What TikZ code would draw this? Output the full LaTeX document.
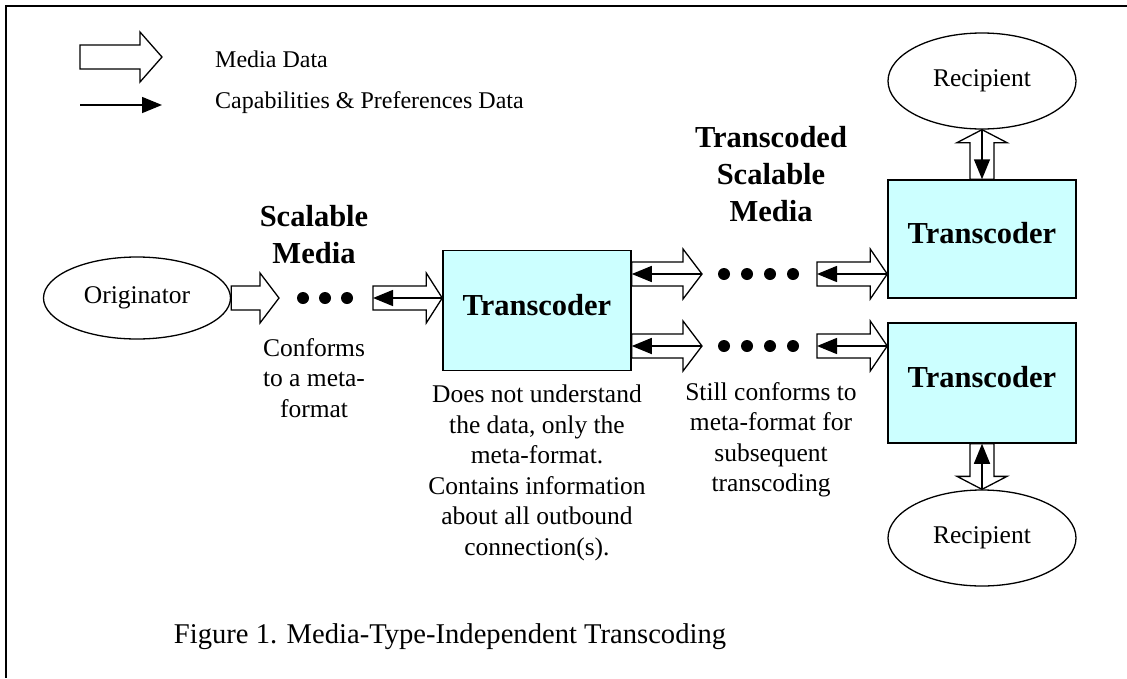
\documentclass[tikz,border=0pt]{standalone}
\usepackage{fontspec}
\setmainfont{Liberation Serif}
\usetikzlibrary{calc,arrows.meta,shapes.geometric}

\definecolor{tccyan}{HTML}{CCFFFF}

% hollow media arrow from #2 to #3, #1 = head length
\newcommand{\mediaarrow}[3][18pt]{%
  \coordinate (mbase) at ($(#3)!#1!(#2)$);
  \draw[media] ($(#2)!12pt!90:(#3)$) -- ($(mbase)!12pt!90:(#3)$)
    -- ($(mbase)!25pt!90:(#3)$) -- (#3)
    -- ($(mbase)!25pt!-90:(#3)$) -- ($(mbase)!12pt!-90:(#3)$)
    -- ($(#2)!12pt!-90:(#3)$) -- cycle;}

\begin{document}
\begin{tikzpicture}[x=1pt,y=-1pt,
  txt/.style={font=\fontsize{25.5}{30.5}\selectfont,align=center,inner sep=0pt},
  legend/.style={font=\fontsize{24}{28}\selectfont,anchor=west,inner sep=0pt},
  head/.style={font=\bfseries\fontsize{30.5}{37}\selectfont,align=center,inner sep=0pt},
  tcbox/.style={draw,fill=tccyan,line width=1.5pt,minimum width=188pt,minimum height=120pt,
    inner sep=0pt,text depth=12pt,font=\bfseries\fontsize{30.5}{37}\selectfont},
  party/.style={draw,ellipse,line width=1.3pt,minimum width=188pt,minimum height=96pt,
    inner sep=0pt,font=\fontsize{25.5}{30.5}\selectfont},
  media/.style={draw,fill=white,line width=1.3pt,line join=miter},
  capdata/.style={line width=1.5pt,-{Triangle[length=20pt,width=16pt]}}]
  \useasboundingbox (0,0) rectangle (1127,678);
  \draw[line width=2.5pt] (1127,6) -- (6,6) -- (6,678);

  % legend
  \coordinate (lm1) at (80,57);
  \coordinate (lm2) at (162,57);
  \coordinate (lc1) at (80,105);
  \coordinate (lc2) at (162,105);
  \mediaarrow[22pt]{lm1}{lm2}
  \draw[capdata] (lc1) -- (lc2);
  \node[legend] (lmtxt) at (215,59) {Media Data};
  \node[legend] (lctxt) at (215,103) {Capabilities \& Preferences Data};

  % parties and transcoders
  \node[party,minimum width=187pt,minimum height=82pt] (org) at (137,298) {Originator};
  \node[tcbox] (tc1) at (537,310.5) {Transcoder};
  \node[tcbox,minimum height=118pt] (tc2) at (982,239) {Transcoder};
  \node[tcbox] (tc3) at (982,383) {Transcoder};
  \node[party] (rc1) at (982,81) {Recipient};
  \node[party] (rc2) at (982,538) {Recipient};

  % originator -> first transcoder
  \coordinate (o1) at (279,298);
  \mediaarrow[19pt]{org.east}{o1}
  \foreach \x in {303,325,347} \fill (\x,298) circle (6pt);
  \coordinate (in1) at (373,298);
  \coordinate (in1e) at (tc1.west |- in1);
  \mediaarrow[16pt]{in1}{in1e}
  \draw[capdata] (in1e) -- (in1);

  % first transcoder -> the two others
  \foreach \y/\n in {274/u,346/l} {
    \coordinate (\n1) at (702,\y);
    \coordinate (\n1s) at (tc1.east |- \n1);
    \coordinate (\n2) at (817,\y);
    \coordinate (\n2e) at (tc2.west |- \n2);
    \mediaarrow[19pt]{\n1s}{\n1}
    \draw[capdata] (\n1) -- (\n1s);
    \foreach \x in {724,747,770,793} \fill (\x,\y) circle (6pt);
    \mediaarrow[17pt]{\n2}{\n2e}
    \draw[capdata] (\n2e) -- (\n2);
  }

  % transcoders <-> recipients
  \mediaarrow[13pt]{tc2.north}{rc1.south}
  \draw[capdata] (rc1.south) -- (tc2.north);
  \mediaarrow[13pt]{tc3.south}{rc2.north}
  \draw[capdata] (rc2.north) -- (tc3.south);

  % labels
  \node[head] (sm) at (314,235) {Scalable\\Media};
  \node[head] (tsm) at (771,174) {Transcoded\\Scalable\\Media};
  \node[txt] (conf) at (314,378) {Conforms\\to a meta-\\format};
  \node[txt] (dnu) at (537,473) {Does not understand\\the data, only the\\meta-format.\\Contains information\\about all outbound\\connection(s).};
  \node[txt] (still) at (771,440) {Still conforms to\\meta-format for\\subsequent\\transcoding};
  \node[font=\fontsize{28.6}{33}\selectfont,inner sep=0pt] (cap) at (450,637)
    {Figure 1. Media-Type-Independent Transcoding};
\end{tikzpicture}
\end{document}
